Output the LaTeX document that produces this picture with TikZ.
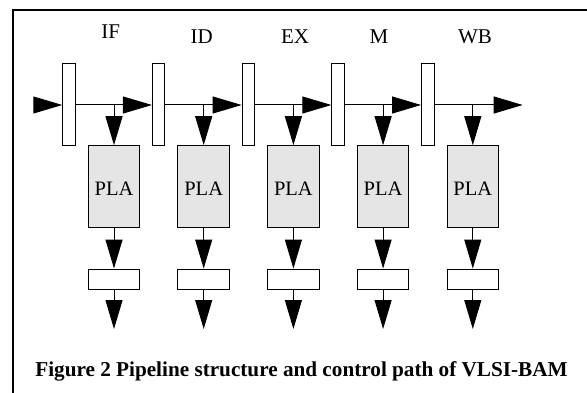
\documentclass[tikz,border=0pt]{standalone}
\usepackage{fontspec}
\setmainfont{Liberation Serif}
\usetikzlibrary{arrows.meta}
\begin{document}
\begin{tikzpicture}[x=1pt,y=-1pt,
  reg/.style={draw=black,fill=white,line width=1pt,minimum width=12.5pt,minimum height=82pt,inner sep=0pt},
  pla/.style={draw=black,fill=black!10,line width=1pt,minimum width=51.5pt,minimum height=82pt,inner sep=0pt},
  plat/.style={inner sep=0pt,font=\fontsize{20.5}{22}\selectfont},
  sbox/.style={draw=black,fill=white,line width=1pt,minimum width=51.5pt,minimum height=20.3pt,inner sep=0pt},
  lab/.style={inner sep=0pt,font=\fontsize{21}{23}\selectfont},
  arr/.style={line width=1pt,-{Triangle[length=29pt,width=17pt]}},
  frame/.style={line width=2.8pt,line cap=rect}]
\useasboundingbox (0,0) rectangle (587,393);
\draw[frame] (13,393) -- (13,10) -- (590,10);
% stage labels
\node[lab] (lIF) at (110.7,32) {IF};
\node[lab] (lID) at (201.7,37) {ID};
\node[lab] (lEX) at (295,37) {EX};
\node[lab] (lM) at (379,37) {M};
\node[lab] (lWB) at (475,37) {WB};
% registers, PLAs, boxes
\foreach \i in {0,...,4}{
  \pgfmathsetmacro{\rx}{69+89.7*\i}
  \pgfmathsetmacro{\px}{114+89.7*\i}
  \node[reg] (r\i) at (\rx,105) {};
  \node[pla] (p\i) at (\px,186.7) {};
  \node[plat] (t\i) at (\px,189) {PLA};
  \node[sbox] (b\i) at (\px,279.2) {};
  \coordinate (o\i) at (\px,329);
}
\coordinate (in) at (35,105);
\coordinate (out) at (522.7,105);
\draw[arr] (in) -- (r0.west);
\foreach \i/\j in {0/1,1/2,2/3,3/4}{
  \draw[arr] (r\i.east) -- (r\j.west);
}
\draw[arr] (r4.east) -- (out);
\foreach \i in {0,...,4}{
  \draw[arr] (p\i.north |- r\i.center) -- (p\i.north);
  \draw[arr] (p\i.south) -- (b\i.north);
  \draw[arr] (b\i.south) -- (o\i);
}
\node[inner sep=0pt,anchor=base,font=\bfseries\fontsize{21.2}{24}\selectfont] (cap) at (301.5,376.7) {Figure 2 Pipeline structure and control path of VLSI-BAM};
\end{tikzpicture}
\end{document}
